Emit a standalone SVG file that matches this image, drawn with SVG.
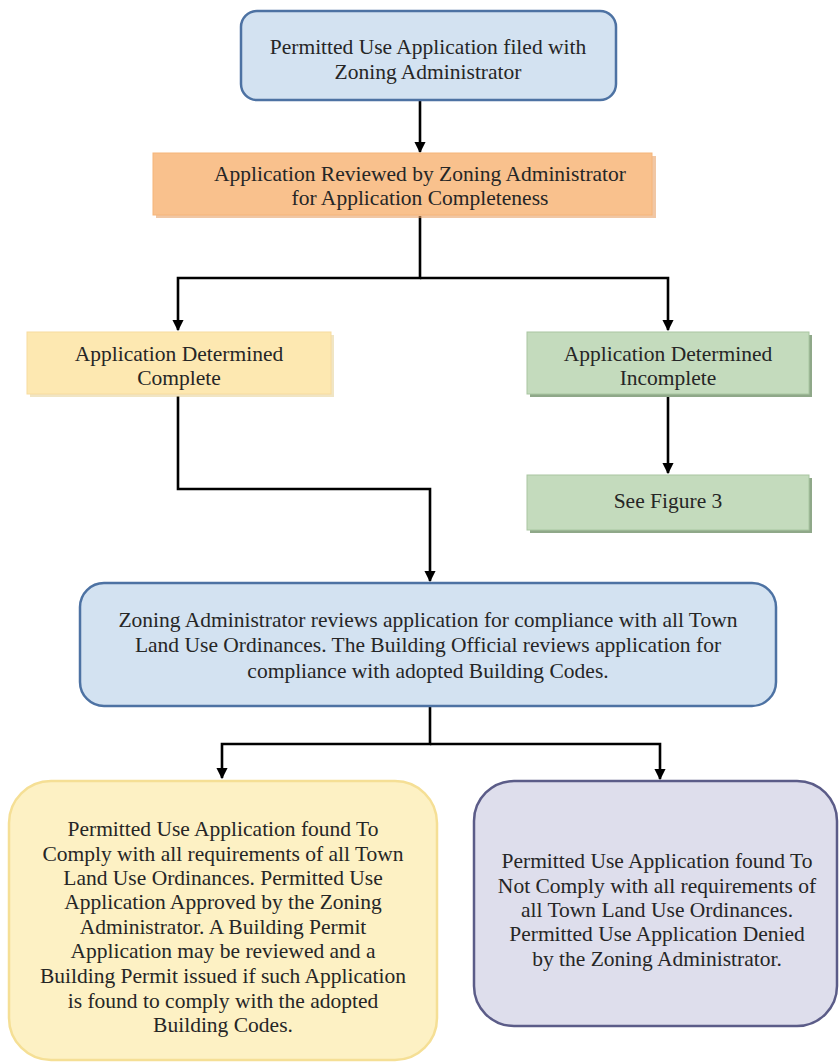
<svg xmlns="http://www.w3.org/2000/svg" width="840" height="1064" viewBox="0 0 840 1064" font-family="Liberation Serif, DejaVu Serif, serif">
<defs>
<style>
text{font-family:'Liberation Serif','DejaVu Serif',serif;font-size:21.5px;fill:#262626;text-anchor:middle}
.conn{fill:none;stroke:#000;stroke-width:2.6}
</style>
<marker id="ah" viewBox="0 0 10 10" refX="9" refY="5" markerWidth="4.4" markerHeight="4.4" orient="auto" markerUnits="strokeWidth">
<path d="M0,0 L10,5 L0,10 z" fill="#000"/>
</marker>
</defs>
<rect width="840" height="1064" fill="#fff"/>
<g id="connectors">
<path class="conn" d="M420,100 V152" marker-end="url(#ah)"/>
<path class="conn" d="M420,216 V278 H178 V330" marker-end="url(#ah)"/>
<path class="conn" d="M420,278 H668 V330" marker-end="url(#ah)"/>
<path class="conn" d="M668,396 V473" marker-end="url(#ah)"/>
<path class="conn" d="M178,396 V489 H430 V581" marker-end="url(#ah)"/>
<path class="conn" d="M430,707 V744 H222 V778" marker-end="url(#ah)"/>
<path class="conn" d="M430,744 H660 V779" marker-end="url(#ah)"/>
</g>
<g id="n1">
<rect x="241" y="11" width="375" height="89" rx="16" fill="#d3e2f1" stroke="#4d72a3" stroke-width="2.5"/>
<text x="428" y="54">Permitted Use Application filed with</text>
<text x="428" y="79">Zoning Administrator</text>
</g>
<g id="n2">
<rect x="156" y="156" width="500" height="62" fill="#e8a268" opacity="0.6"/>
<rect x="153" y="153" width="499" height="62" fill="#f9c18d" stroke="#f5b57a" stroke-width="1"/>
<text x="420" y="181">Application Reviewed by Zoning Administrator</text>
<text x="420" y="205">for Application Completeness</text>
</g>
<g id="n3">
<rect x="30" y="335" width="304" height="62" fill="#e6d49c" opacity="0.6"/>
<rect x="27" y="332" width="304" height="62" fill="#fde8b1" stroke="#f7dc9f" stroke-width="1"/>
<text x="179" y="361">Application Determined</text>
<text x="179" y="385">Complete</text>
</g>
<g id="n4">
<rect x="530" y="335" width="282" height="62" fill="#8fa889"/>
<rect x="527" y="332" width="282" height="62" fill="#c4dbbd" stroke="#a9c6a1" stroke-width="1"/>
<text x="668" y="361">Application Determined</text>
<text x="668" y="385">Incomplete</text>
</g>
<g id="n5">
<rect x="530" y="478" width="282" height="55" fill="#8fa889"/>
<rect x="527" y="475" width="282" height="55" fill="#c4dbbd" stroke="#a9c6a1" stroke-width="1"/>
<text x="668" y="508">See Figure 3</text>
</g>
<g id="n6">
<rect x="80" y="583" width="696" height="123" rx="24" fill="#d3e2f1" stroke="#4d72a3" stroke-width="2.5"/>
<text x="428" y="627">Zoning Administrator reviews application for compliance with all Town</text>
<text x="428" y="652">Land Use Ordinances. The Building Official reviews application for</text>
<text x="428" y="678">compliance with adopted Building Codes.</text>
</g>
<g id="n7">
<rect x="9" y="781" width="428" height="279" rx="42" fill="#fdf1c4" stroke="#f5df95" stroke-width="2.5"/>
<text x="223" y="836">Permitted Use Application found To</text>
<text x="223" y="861">Comply with all requirements of all Town</text>
<text x="223" y="885">Land Use Ordinances. Permitted Use</text>
<text x="223" y="909">Application Approved by the Zoning</text>
<text x="223" y="934">Administrator. A Building Permit</text>
<text x="223" y="958">Application may be reviewed and a</text>
<text x="223" y="983">Building Permit issued if such Application</text>
<text x="223" y="1008">is found to comply with the adopted</text>
<text x="223" y="1032">Building Codes.</text>
</g>
<g id="n8">
<rect x="474" y="781" width="363" height="245" rx="40" fill="#dedeec" stroke="#5b5c88" stroke-width="2.5"/>
<text x="657" y="868">Permitted Use Application found To</text>
<text x="657" y="893">Not Comply with all requirements of</text>
<text x="657" y="917">all Town Land Use Ordinances.</text>
<text x="657" y="941">Permitted Use Application Denied</text>
<text x="657" y="966">by the Zoning Administrator.</text>
</g>
</svg>
